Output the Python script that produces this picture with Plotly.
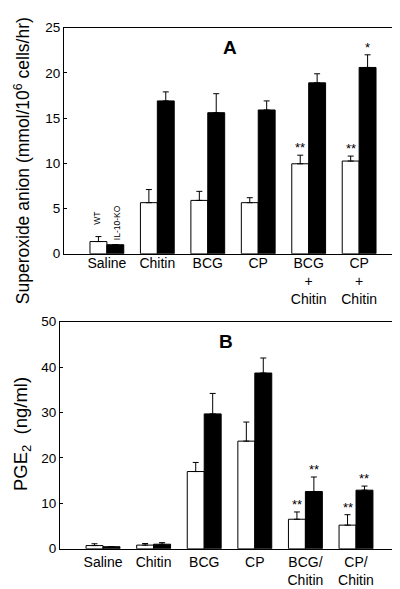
import plotly.graph_objects as go

# ---- data ----
cats_a = ["Saline", "Chitin", "BCG", "CP", "BCG<br>+<br>Chitin", "CP<br>+<br>Chitin"]
wt_a = [1.35, 5.65, 5.9, 5.65, 9.95, 10.25]
wt_a_err = [0.55, 1.45, 1.0, 0.55, 0.95, 0.55]
ko_a = [1.0, 16.9, 15.6, 15.9, 18.9, 20.6]
ko_a_err = [0.0, 1.0, 2.1, 1.0, 1.0, 1.4]
wt_a_sig = ["", "", "", "", "**", "**"]
ko_a_sig = ["", "", "", "", "", "*"]

cats_b = ["Saline", "Chitin", "BCG", "CP", "BCG/<br>Chitin", "CP/<br>Chitin"]
wt_b = [0.7, 0.8, 17.0, 23.7, 6.5, 5.2]
wt_b_err = [0.4, 0.35, 2.0, 4.2, 1.6, 2.3]
ko_b = [0.45, 1.0, 29.7, 38.7, 12.6, 12.9]
ko_b_err = [0.0, 0.35, 4.5, 3.3, 3.2, 0.9]
wt_b_sig = ["", "", "", "", "**", "**"]
ko_b_sig = ["", "", "", "", "**", "**"]

yticks_a = [0, 5, 10, 15, 20, 25]
yticks_b = [0, 10, 20, 30, 40, 50]

FONT = "Arial, Liberation Sans, Helvetica, sans-serif"
W, H = 400, 589

fig = go.Figure()
xpos = list(range(6))
OFF = 0.1675
BW = 0.335


def add_panel(wt, wte, ko, koe, xa, ya):
    fig.add_trace(go.Bar(
        x=[p - OFF for p in xpos], y=wt, width=BW, xaxis=xa, yaxis=ya,
        marker=dict(color="white", line=dict(color="black", width=1)),
        error_y=dict(type="data", array=wte, arrayminus=[0] * 6, symmetric=False,
                     color="black", thickness=1, width=3),
        showlegend=False, hoverinfo="skip"))
    fig.add_trace(go.Bar(
        x=[p + OFF for p in xpos], y=ko, width=BW, xaxis=xa, yaxis=ya,
        marker=dict(color="black", line=dict(color="black", width=1)),
        error_y=dict(type="data", array=koe, arrayminus=[0] * 6, symmetric=False,
                     color="black", thickness=1, width=3),
        showlegend=False, hoverinfo="skip"))


add_panel(wt_a, wt_a_err, ko_a, ko_a_err, "x", "y")
add_panel(wt_b, wt_b_err, ko_b, ko_b_err, "x2", "y2")

annotations = []


def add_sig(vals, errs, sig, offset, xr, yr):
    for i, (v, e, s) in enumerate(zip(vals, errs, sig)):
        if s:
            annotations.append(dict(
                x=i + offset, y=v + e, xref=xr, yref=yr, text=s, showarrow=False,
                yanchor="bottom", xanchor="center", yshift=-2,
                font=dict(family=FONT, size=13, color="black")))


add_sig(wt_a, wt_a_err, wt_a_sig, -OFF, "x", "y")
add_sig(ko_a, ko_a_err, ko_a_sig, OFF, "x", "y")
add_sig(wt_b, wt_b_err, wt_b_sig, -OFF, "x2", "y2")
add_sig(ko_b, ko_b_err, ko_b_sig, OFF, "x2", "y2")

# panel letters
annotations.append(dict(x=222 / W, y=1 - 33 / H, xref="paper", yref="paper", text="<b>A</b>",
                        xanchor="center", yanchor="middle",
                        showarrow=False, font=dict(family=FONT, size=19, color="black")))
annotations.append(dict(x=218 / W, y=1 - 335 / H, xref="paper", yref="paper", text="<b>B</b>",
                        xanchor="center", yanchor="middle",
                        showarrow=False, font=dict(family=FONT, size=19, color="black")))
# legend labels in panel A
annotations.append(dict(x=-0.2, y=wt_a[0] + wt_a_err[0], xref="x", yref="y", text="WT",
                        textangle=-90, xanchor="center", yanchor="bottom", yshift=10,
                        showarrow=False, font=dict(family=FONT, size=8.5, color="black")))
annotations.append(dict(x=0.2, y=ko_a[0], xref="x", yref="y", text="IL-10-KO",
                        textangle=-90, xanchor="center", yanchor="bottom", yshift=3,
                        showarrow=False, font=dict(family=FONT, size=8.5, color="black")))
# y titles
annotations.append(dict(x=14 / W, y=1 - 150 / H, xref="paper", yref="paper",
                        xanchor="center", yanchor="middle",
                        text="Superoxide anion (mmol/10<sup>6</sup> cells/hr)", textangle=-90,
                        showarrow=False, font=dict(family=FONT, size=17.5, color="black")))
annotations.append(dict(x=14 / W, y=1 - 430 / H, xref="paper", yref="paper",
                        xanchor="center", yanchor="middle",
                        text="PGE<sub>2</sub>  (ng/ml)", textangle=-90,
                        showarrow=False, font=dict(family=FONT, size=18.5, color="black")))

xcommon = dict(range=[-0.85, 5.83], showline=True, linecolor="black", linewidth=1, mirror=True,
               ticks="", showgrid=False, zeroline=False, tickvals=xpos,
               tickfont=dict(family=FONT, size=14, color="black"))
ycommon = dict(showline=True, linecolor="black", linewidth=1, mirror="ticks", ticks="inside",
               ticklen=3, tickcolor="black", showgrid=False, zeroline=False,
               tickfont=dict(family=FONT, size=13.5, color="black"))

fig.update_layout(
    width=W, height=H, margin=dict(l=0, r=0, t=0, b=0),
    paper_bgcolor="white", plot_bgcolor="white", showlegend=False,
    barmode="overlay",
    xaxis=dict(**xcommon, domain=[56 / W, 393 / W], ticktext=cats_a, anchor="y",
               ticklabelstandoff=-4),
    yaxis=dict(**ycommon, domain=[1 - 245 / H, 1 - 13 / H], range=[0, 25], tickvals=yticks_a,
               anchor="x"),
    xaxis2=dict(**xcommon, domain=[52 / W, 390 / W], ticktext=cats_b, anchor="y2",
                ticklabelstandoff=0),
    yaxis2=dict(**ycommon, domain=[1 - 547.7 / H, 1 - 314.7 / H], range=[0, 50], tickvals=yticks_b,
                anchor="x2"),
    annotations=annotations,
)

fig.write_html("out.html")
